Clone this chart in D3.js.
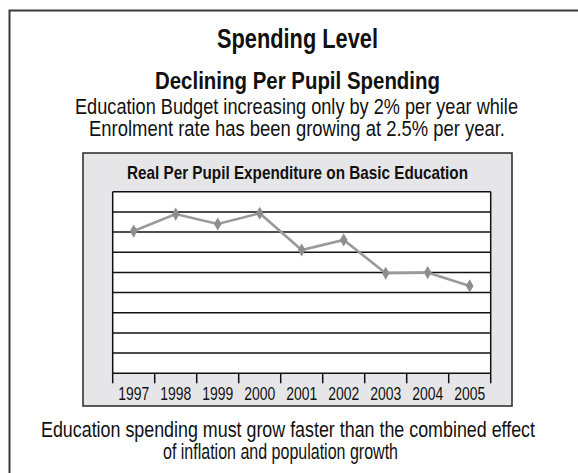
<!DOCTYPE html>
<html>
<head>
<meta charset="utf-8">
<script src="https://cdn.jsdelivr.net/npm/d3@7/dist/d3.min.js"></script>
<style>
  html, body { margin: 0; padding: 0; background: #fff; }
  svg { display: block; }
  text { font-family: "Liberation Sans", Arial, sans-serif; fill: #111; }
</style>
</head>
<body>
<svg id="chart" width="578" height="473"></svg>
<script>
// Real per pupil expenditure index (no units shown on the chart)
const years = ["1997", "1998", "1999", "2000", "2001", "2002", "2003", "2004", "2005"];
const expenditure = [7.05, 7.89, 7.40, 7.93, 6.11, 6.61, 4.96, 4.99, 4.33];
const gridValues = [0, 1, 2, 3, 4, 5, 6, 7, 8, 9];

const titleText = "Spending Level";
const headlineText = "Declining Per Pupil Spending";
const subtitleLines = [
  "Education Budget increasing only by 2% per year while",
  "Enrolment rate has been growing at 2.5% per year."
];
const chartTitle = "Real Per Pupil Expenditure on Basic Education";
const footerLines = [
  "Education spending must grow faster than the combined effect",
  "of inflation and population growth"
];

const svg = d3.select("#chart");

// Condensed lettering: each line is squeezed to a fixed run length
function label(sel, o) {
  return sel.append("text")
    .attr("x", o.x).attr("y", o.y)
    .attr("font-size", o.size)
    .attr("font-weight", o.bold ? "bold" : "normal")
    .attr("textLength", o.len)
    .attr("lengthAdjust", "spacingAndGlyphs")
    .text(o.text);
}

// Outer frame (runs off the right and bottom edges)
svg.append("path")
  .attr("d", "M9.5,480 V10.5 H590")
  .attr("fill", "none")
  .attr("stroke", "#3a3a3a")
  .attr("stroke-width", 2);

label(svg, { text: titleText, x: 217, y: 47.5, size: 27.5, bold: true, len: 161 });
label(svg, { text: headlineText, x: 155, y: 88.5, size: 24.5, bold: true, len: 285 });
label(svg, { text: subtitleLines[0], x: 75, y: 113.5, size: 22.5, len: 443 });
label(svg, { text: subtitleLines[1], x: 89, y: 135.5, size: 22.5, len: 416 });

// Gray chart panel
const panel = { x: 83, y: 153, w: 429, h: 253 };
svg.append("rect")
  .attr("x", panel.x).attr("y", panel.y)
  .attr("width", panel.w).attr("height", panel.h)
  .attr("fill", "#e6e6e8")
  .attr("stroke", "#333")
  .attr("stroke-width", 1.6);

label(svg, { text: chartTitle, x: 127, y: 178.5, size: 19, bold: true, len: 341 });

// Plot area
const plot = { left: 112.7, right: 490.7, top: 191.7, bottom: 373.3 };

const x = d3.scaleBand()
  .domain(years)
  .range([plot.left, plot.right])
  .padding(0);

const y = d3.scaleLinear()
  .domain([0, 9])
  .range([plot.bottom, plot.top]);

svg.append("rect")
  .attr("x", plot.left).attr("y", plot.top)
  .attr("width", plot.right - plot.left)
  .attr("height", plot.bottom - plot.top)
  .attr("fill", "#fff");

svg.append("g")
  .selectAll("line")
  .data(gridValues)
  .enter().append("line")
  .attr("x1", plot.left).attr("x2", plot.right)
  .attr("y1", d => y(d)).attr("y2", d => y(d))
  .attr("stroke", "#111")
  .attr("stroke-width", 1.5);

svg.append("g")
  .selectAll("line")
  .data([plot.left, plot.right])
  .enter().append("line")
  .attr("x1", d => d).attr("x2", d => d)
  .attr("y1", plot.top).attr("y2", plot.bottom)
  .attr("stroke", "#111")
  .attr("stroke-width", 1.5);

// Category axis: ticks sit on band boundaries, labels in band centres
const tickPositions = years.map(yr => x(yr)).concat([x(years[years.length - 1]) + x.bandwidth()]);
svg.append("g")
  .selectAll("line")
  .data(tickPositions)
  .enter().append("line")
  .attr("x1", d => d).attr("x2", d => d)
  .attr("y1", plot.bottom).attr("y2", plot.bottom + 10)
  .attr("stroke", "#111")
  .attr("stroke-width", 1.5);

svg.append("g")
  .selectAll("text")
  .data(years)
  .enter().append("text")
  .attr("x", d => x(d) + x.bandwidth() / 2 - 15.5)
  .attr("y", 400)
  .attr("font-size", 18.5)
  .attr("textLength", 31)
  .attr("lengthAdjust", "spacingAndGlyphs")
  .text(d => d);

// Series line and diamond markers
const pts = years.map((yr, i) => [x(yr) + x.bandwidth() / 2, y(expenditure[i])]);

svg.append("path")
  .attr("d", d3.line()(pts))
  .attr("fill", "none")
  .attr("stroke", "#9a9a9a")
  .attr("stroke-width", 2.6);

svg.append("g")
  .selectAll("path")
  .data(pts)
  .enter().append("path")
  .attr("transform", d => `translate(${d[0]},${d[1]})`)
  .attr("d", d3.symbol().type(d3.symbolDiamond).size(50))
  .attr("fill", "#8e8e8e");

label(svg, { text: footerLines[0], x: 41, y: 436.5, size: 22.5, len: 494 });
label(svg, { text: footerLines[1], x: 163, y: 458.5, size: 22.5, len: 235 });
</script>
</body>
</html>
